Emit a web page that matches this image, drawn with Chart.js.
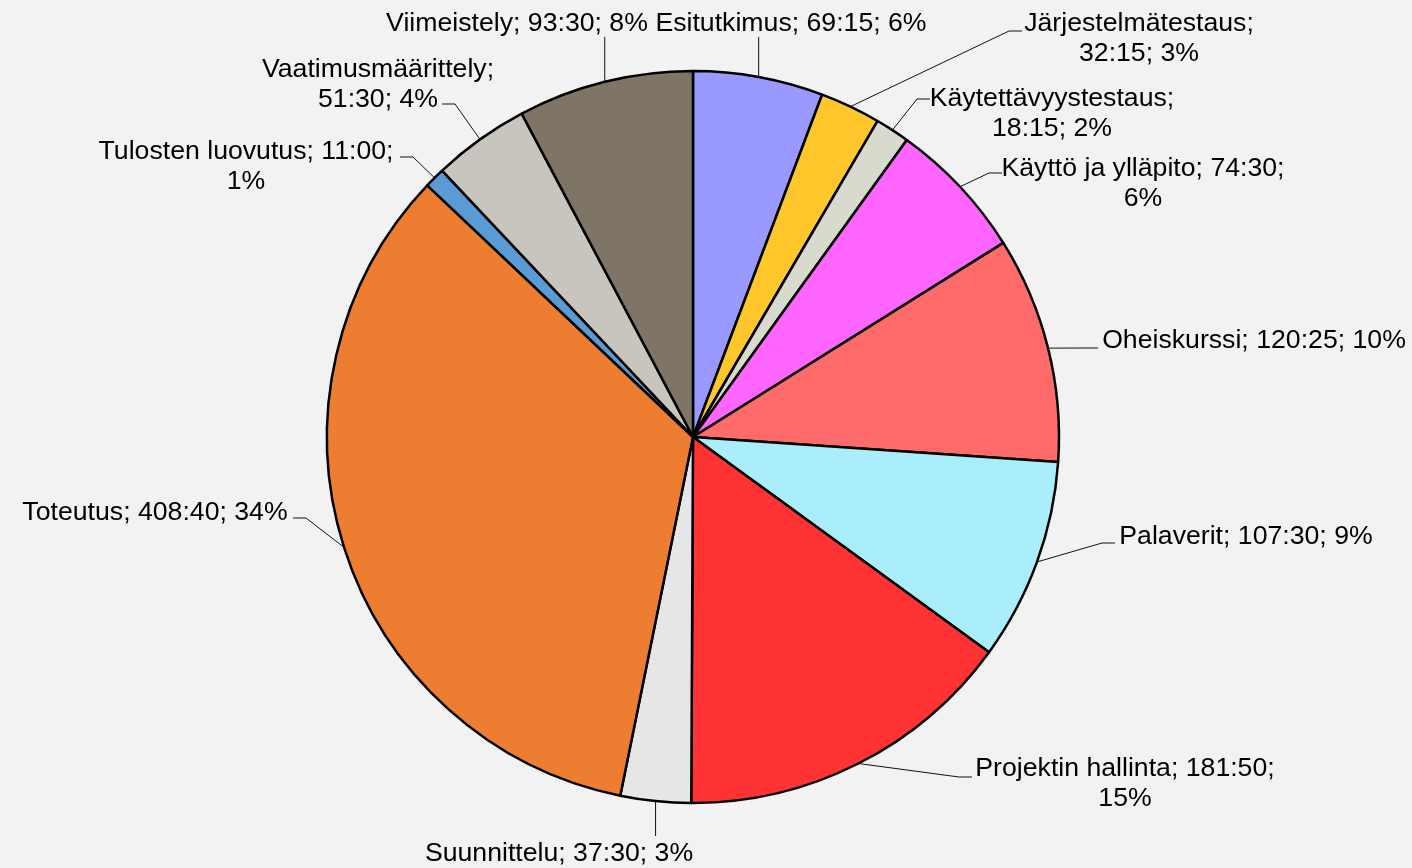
<!DOCTYPE html>
<html lang="fi">
<head>
    <meta charset="UTF-8">
    <title>Työtunnit</title>
    <script src="https://cdn.jsdelivr.net/npm/chart.js"></script>
    <style>
        html, body { margin: 0; padding: 0; background: #F2F2F2; }
        canvas { display: block; }
    </style>
</head>
<body>
    <canvas id="tunnit" width="1412" height="868"></canvas>

    <script>
        // Vaiheet ja käytetty aika (minuutteina, näytetään muodossa h:mm)
        var vaiheet = ["Esitutkimus", "Järjestelmätestaus", "Käytettävyystestaus", "Käyttö ja ylläpito",
            "Oheiskurssi", "Palaverit", "Projektin hallinta", "Suunnittelu", "Toteutus",
            "Tulosten luovutus", "Vaatimusmäärittely", "Viimeistely"];
        var minuutit = [4155, 1935, 1095, 4470, 7225, 6450, 10910, 2250, 24520, 660, 3090, 5610];
        var varit = ["#9999FF", "#FFC72C", "#D9DACE", "#FF66FF", "#FF6B6B", "#AAEEFC",
            "#FF3333", "#E6E6E6", "#ED7D31", "#5B9BD5", "#C8C4BE", "#7E7567"];

        // Montako osaa (nimi; aika; %) mahtuu ensimmäiselle riville
        var rivitys = [3, 1, 1, 2, 3, 3, 2, 3, 3, 2, 1, 3];

        // Selitteiden paikat keskipisteestä (ensimmäisen rivin keskikohta)
        var selitePaikat = [[98, -413], [446, -413], [359, -338], [450, -268], [561, -96], [553, 100],
            [432, 332], [-134, 417], [-538, 76], [-447, -285], [-315, -367], [-176, -413]];
        // Johtoviivan loppupää; 'v' = pystysuora viiva
        var viivanPaat = [["v", 0, -400], ["h", 329, -406], ["h", 237, -338], ["h", 309, -264],
            ["h", 405, -89], ["h", 422, 106], ["h", 279, 340], ["v", 0, 399], ["h", -400, 81],
            ["h", -293, -280], ["h", -251, -333], ["v", 0, -400]];

        function muotoileAika(min) {
            var h = Math.floor(min / 60);
            var m = min % 60;
            return h + ":" + (m < 10 ? "0" + m : m);
        }

        var yhteensa = minuutit.reduce(function (a, b) { return a + b; }, 0);

        var selitteet = {
            id: "selitteet",
            afterDatasetsDraw: function (chart) {
                var ctx = chart.ctx;
                var arcs = chart.getDatasetMeta(0).data;
                ctx.save();
                ctx.font = "26.67px 'Liberation Sans', Arial, sans-serif";
                ctx.fillStyle = "#000";
                ctx.strokeStyle = "#111";
                ctx.lineWidth = 1;
                arcs.forEach(function (arc, i) {
                    var cx = arc.x, cy = arc.y;
                    var mid = (arc.startAngle + arc.endAngle) / 2;
                    var ax = cx + Math.cos(mid) * arc.outerRadius;
                    var ay = cy + Math.sin(mid) * arc.outerRadius;

                    var osat = [vaiheet[i] + ";", muotoileAika(minuutit[i]) + ";",
                        Math.round(minuutit[i] / yhteensa * 100) + "%"];
                    var rivit = [osat.slice(0, rivitys[i]).join(" "), osat.slice(rivitys[i]).join(" ")]
                        .filter(function (r) { return r.length; });
                    var tx = cx + selitePaikat[i][0], ty = cy + selitePaikat[i][1];

                    // johtoviiva
                    var vp = viivanPaat[i];
                    ctx.beginPath();
                    ctx.moveTo(ax, ay);
                    if (vp[0] === "v") {
                        ctx.lineTo(ax, cy + vp[2]);
                    } else {
                        var ex = cx + vp[1], ey = cy + vp[2];
                        var suunta = ex > ax ? 1 : -1;
                        ctx.lineTo(ex - suunta * 13, ey);
                        ctx.lineTo(ex, ey);
                    }
                    ctx.stroke();

                    ctx.textAlign = "center";
                    ctx.textBaseline = "middle";
                    rivit.forEach(function (r, j) {
                        ctx.fillText(r, tx, ty + j * 30);
                    });
                });
                ctx.restore();
            }
        };

        var ctx = document.getElementById("tunnit").getContext("2d");
        new Chart(ctx, {
            type: "pie",
            data: {
                labels: vaiheet,
                datasets: [{
                    data: minuutit,
                    backgroundColor: varit,
                    borderColor: "#000",
                    borderWidth: 2.5,
                    hoverOffset: 0
                }]
            },
            options: {
                responsive: false,
                animation: false,
                radius: 366,
                layout: { padding: { left: 0, right: 26, top: 6, bottom: 0 } },
                plugins: {
                    legend: { display: false },
                    tooltip: { enabled: false }
                },
                events: []
            },
            plugins: [selitteet]
        });
    </script>
</body>
</html>
